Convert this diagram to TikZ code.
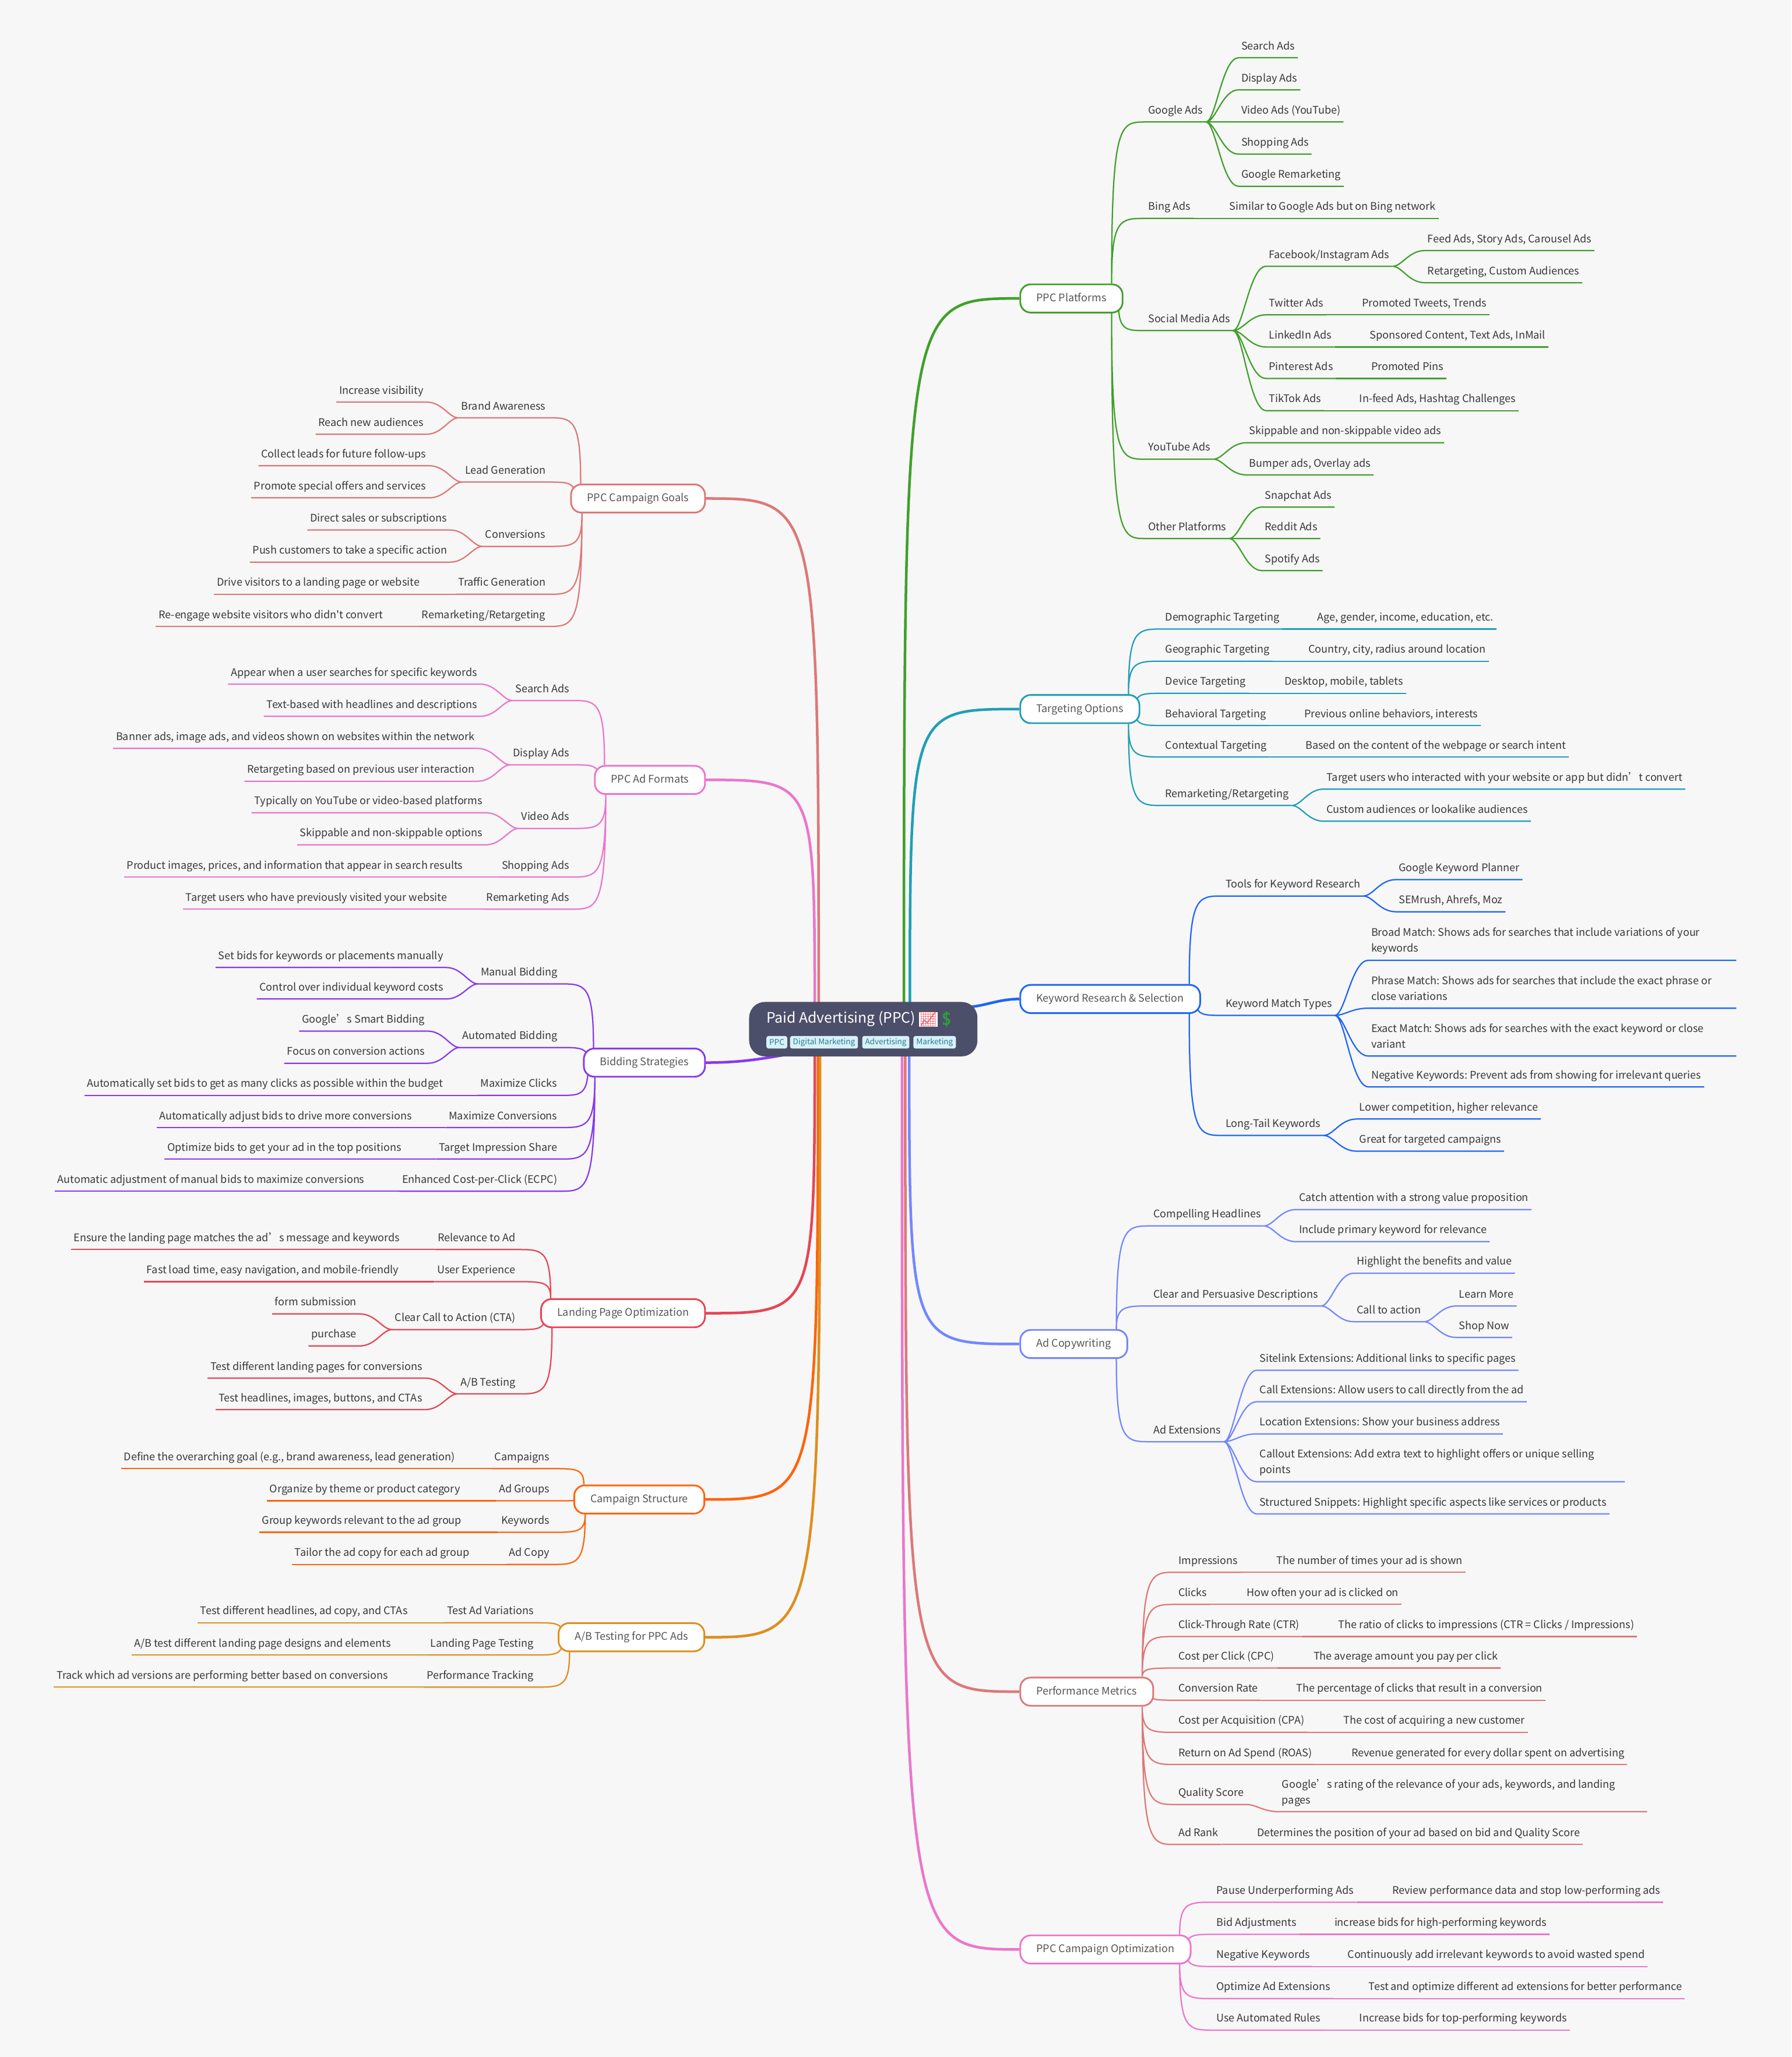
\documentclass[tikz,border=0pt]{standalone}
\usepackage{fontspec}
\usetikzlibrary{backgrounds,calc}
\newfontfamily\mapfont{Noto Sans CJK SC}
\newfontfamily\emojifont{Noto Emoji}
\definecolor{pagebg}{HTML}{F7F7F7}
\definecolor{rootcol}{HTML}{4C4F69}
\definecolor{leafcol}{HTML}{383838}
\definecolor{boxcol}{HTML}{555555}
\definecolor{tagfill}{HTML}{D7F1F8}
\definecolor{tagtext}{HTML}{2C7C94}
\definecolor{cplat}{HTML}{40A02B}
\definecolor{ctarget}{HTML}{209FB5}
\definecolor{ckey}{HTML}{1E66F5}
\definecolor{ccopy}{HTML}{7287FD}
\definecolor{cperf}{HTML}{DD7878}
\definecolor{cpink}{HTML}{EA76CB}
\definecolor{cbid}{HTML}{8839EF}
\definecolor{cland}{HTML}{E64553}
\definecolor{cstruct}{HTML}{FE640B}
\definecolor{cab}{HTML}{DF8E1D}
\tikzset{
  leaf/.style={inner xsep=2pt,inner ysep=3.5pt,text=leafcol,font=\mapfont\fontsize{8}{12}\selectfont\frenchspacing,align=left,
    execute at end node={\rule[-2.5pt]{0pt}{9.5pt}}},
  rleaf/.style={leaf,anchor=south west,xshift=.5pt},
  lleaf/.style={leaf,anchor=south east,xshift=-.5pt},
  wrapped/.style={text width=276pt,align=flush left},
  branch/.style={draw=#1,line width=1.3pt,fill=white,rounded corners=8pt,minimum height=21.5pt,inner xsep=12.3pt,inner ysep=0pt,
    text=boxcol,text height=6.3pt,text depth=1.7pt,font=\mapfont\fontsize{8}{12}\selectfont},
  tag/.style={fill=tagfill,text=tagtext,rounded corners=1.5pt,inner xsep=2.2pt,inner ysep=0pt,minimum height=9.5pt,anchor=west,
    font=\mapfont\fontsize{6}{9}\selectfont},
  trunk/.style={line width=2pt},
  twigline/.style={line width=1pt,line join=round},
  rtwig/.style={twigline,to path={let \p1=(\tikztostart.south east),\p2=(\tikztotarget.south west) in
    (\p1) .. controls ({\x1+.3*(\x2-\x1)},\y1) and ({\x1+.5*(\x2-\x1)},\y2) .. (\p2) -- (\tikztotarget.south east)}},
  ltwig/.style={twigline,to path={let \p1=(\tikztostart.south west),\p2=(\tikztotarget.south east) in
    (\p1) .. controls ({\x1+.3*(\x2-\x1)},\y1) and ({\x1+.5*(\x2-\x1)},\y2) .. (\p2) -- (\tikztotarget.south west)}},
  rup/.style={twigline,to path={let \p1=([xshift=-9pt]\tikztostart.north east),\p2=(\tikztotarget.south west) in
    (\p1) .. controls (\x1,\y2) and ({\x1+.25*(\x2-\x1)},\y2) .. (\p2) -- (\tikztotarget.south east)}},
  rdown/.style={twigline,to path={let \p1=([xshift=-9pt]\tikztostart.south east),\p2=(\tikztotarget.south west) in
    (\p1) .. controls (\x1,\y2) and ({\x1+.25*(\x2-\x1)},\y2) .. (\p2) -- (\tikztotarget.south east)}},
  rnear/.style={twigline,to path={let \p1=([xshift=-4pt]\tikztostart.east),\p2=(\tikztotarget.south west) in
    (\p1) .. controls (\x1,\y2) and ({\x1+.25*(\x2-\x1)},\y2) .. (\p2) -- (\tikztotarget.south east)}},
  lup/.style={twigline,to path={let \p1=([xshift=8pt]\tikztostart.north west),\p2=(\tikztotarget.south east) in
    (\p1) .. controls (\x1,\y2) and ({\x1+.25*(\x2-\x1)},\y2) .. (\p2) -- (\tikztotarget.south west)}},
  ldown/.style={twigline,to path={let \p1=([xshift=9pt]\tikztostart.south west),\p2=(\tikztotarget.south east) in
    (\p1) .. controls (\x1,\y2) and ({\x1+.25*(\x2-\x1)},\y2) .. (\p2) -- (\tikztotarget.south west)}},
  lnear/.style={twigline,to path={let \p1=([xshift=4pt]\tikztostart.west),\p2=(\tikztotarget.south east) in
    (\p1) .. controls (\x1,\y2) and ({\x1+.25*(\x2-\x1)},\y2) .. (\p2) -- (\tikztotarget.south west)}},
}
\begin{document}
\begin{tikzpicture}[x=1pt,y=-1pt]
\useasboundingbox (0,0) rectangle (1365.45,1568);

%% le noeud central
\node[fill=rootcol,rounded corners=12pt,minimum width=174pt,minimum height=41.5pt,inner sep=0pt] (root) at (658,784.5) {};
\node[anchor=west,inner sep=0pt,text=white,font=\mapfont\fontsize{11}{14}\selectfont] (roottitle) at (584,776.5) {Paid Advertising (PPC)};
\node[inner sep=0pt,fill=white,text=cland,font=\emojifont\fontsize{11}{13}\selectfont] (rootchart) at (707.5,777) {📈};
\node[inner sep=0pt,text=cplat!80!teal,font=\emojifont\fontsize{12}{13}\selectfont] (rootdollar) at (721.5,777) {💲};
\node[tag] (tagppc) at (584,794.5) {PPC};
\node[tag] (tagdigital) at (602,794.5) {Digital Marketing};
\node[tag] (tagadv) at (657,794.5) {Advertising};
\node[tag] (tagmark) at (696,794.5) {Marketing};

%% les points de depart sur le noeud central
\coordinate (outplat) at (689,775);
\coordinate (outtarget) at (693.5,775);
\coordinate (outkey) at (725,767);
\coordinate (outcopy) at (693,795);
\coordinate (outperf) at (690,795);
\coordinate (outopt) at (687.5,795);
\coordinate (outgoals) at (624,775);
\coordinate (outformats) at (621,775);
\coordinate (outbid) at (610,802);
\coordinate (outland) at (621,795);
\coordinate (outstruct) at (623.5,795);
\coordinate (outab) at (625,795);

%% PPC Platforms
\node[branch=cplat,anchor=west] (platforms) at (777,227.5) {PPC Platforms};
\node[rleaf] (googleads) at (872.5,93) {Google Ads};
\node[rleaf] (gsearch) at (943.5,44) {Search Ads};
\node[rleaf] (gdisplay) at (943.5,68.5) {Display Ads};
\node[rleaf] (gvideo) at (943.5,93) {Video Ads (YouTube)};
\node[rleaf] (gshopping) at (943.5,117.5) {Shopping Ads};
\node[rleaf] (gremarket) at (943.5,142) {Google Remarketing};
\node[rleaf] (bingads) at (872.5,166.5) {Bing Ads};
\node[rleaf] (bingnote) at (934.5,166.5) {Similar to Google Ads but on Bing network};
\node[rleaf] (socialads) at (872.5,252) {Social Media Ads};
\node[rleaf] (facebook) at (964.5,203) {Facebook/Instagram Ads};
\node[rleaf] (fbfeed) at (1085.5,191) {Feed Ads, Story Ads, Carousel Ads};
\node[rleaf] (fbretarget) at (1085.5,215.5) {Retargeting, Custom Audiences};
\node[rleaf] (twitter) at (964.5,240) {Twitter Ads};
\node[rleaf] (twnote) at (1035.5,240) {Promoted Tweets, Trends};
\node[rleaf] (linkedin) at (964.5,264.5) {LinkedIn Ads};
\node[rleaf] (linote) at (1041.5,264.5) {Sponsored Content, Text Ads, InMail};
\node[rleaf] (pinterest) at (964.5,288.5) {Pinterest Ads};
\node[rleaf] (pinote) at (1042.5,288.5) {Promoted Pins};
\node[rleaf] (tiktok) at (964.5,313) {TikTok Ads};
\node[rleaf] (ttnote) at (1033.5,313) {In-feed Ads, Hashtag Challenges};
\node[rleaf] (youtube) at (872.5,350) {YouTube Ads};
\node[rleaf] (ytskip) at (949.5,337.5) {Skippable and non-skippable video ads};
\node[rleaf] (ytbump) at (949.5,362) {Bumper ads, Overlay ads};
\node[rleaf] (otherplat) at (872.5,410.5) {Other Platforms};
\node[rleaf] (snapchat) at (961.5,386.5) {Snapchat Ads};
\node[rleaf] (reddit) at (961.5,410.5) {Reddit Ads};
\node[rleaf] (spotify) at (961.5,435) {Spotify Ads};

%% Targeting Options
\node[branch=ctarget,anchor=west] (targeting) at (777,540.5) {Targeting Options};
\node[rleaf] (demotarget) at (885.5,479.5) {Demographic Targeting};
\node[rleaf] (demonote) at (1001.5,479.5) {Age, gender, income, education, etc.};
\node[rleaf] (geotarget) at (885.5,504) {Geographic Targeting};
\node[rleaf] (geonote) at (994.5,504) {Country, city, radius around location};
\node[rleaf] (devtarget) at (885.5,528.5) {Device Targeting};
\node[rleaf] (devnote) at (976.5,528.5) {Desktop, mobile, tablets};
\node[rleaf] (behavtarget) at (885.5,553) {Behavioral Targeting};
\node[rleaf] (behavnote) at (991.5,553) {Previous online behaviors, interests};
\node[rleaf] (contarget) at (885.5,577) {Contextual Targeting};
\node[rleaf] (connote) at (992.5,577) {Based on the content of the webpage or search intent};
\node[rleaf] (retarget) at (885.5,614) {Remarketing/Retargeting};
\node[rleaf] (retargetusers) at (1008.5,601.5) {Target users who interacted with your website or app but didn’t convert};
\node[rleaf] (retargetaud) at (1008.5,626) {Custom audiences or lookalike audiences};

%% Keyword Research & Selection
\node[branch=ckey,anchor=west] (keyword) at (777,761.5) {Keyword Research \& Selection};
\node[rleaf] (kwtools) at (931.5,683) {Tools for Keyword Research};
\node[rleaf] (kwplanner) at (1063.5,670.5) {Google Keyword Planner};
\node[rleaf] (kwsemrush) at (1063.5,695) {SEMrush, Ahrefs, Moz};
\node[rleaf] (kwmatch) at (931.5,774) {Keyword Match Types};
\node[rleaf,wrapped] (kwbroad) at (1042.5,732) {Broad Match: Shows ads for searches that include variations of your\\keywords};
\node[rleaf,wrapped] (kwphrase) at (1042.5,768.5) {Phrase Match: Shows ads for searches that include the exact phrase or\\close variations};
\node[rleaf,wrapped] (kwexact) at (1042.5,805) {Exact Match: Shows ads for searches with the exact keyword or close\\variant};
\node[rleaf] (kwnegative) at (1042.5,828.5) {Negative Keywords: Prevent ads from showing for irrelevant queries};
\node[rleaf] (kwlong) at (931.5,865.5) {Long-Tail Keywords};
\node[rleaf] (kwlower) at (1033.5,853) {Lower competition, higher relevance};
\node[rleaf] (kwgreat) at (1033.5,877.5) {Great for targeted campaigns};

%% Ad Copywriting
\node[branch=ccopy,anchor=west] (adcopy) at (777,1024.5) {Ad Copywriting};
\node[rleaf] (headlines) at (876.5,934.5) {Compelling Headlines};
\node[rleaf] (hlcatch) at (987.5,922) {Catch attention with a strong value proposition};
\node[rleaf] (hlprimary) at (987.5,946.5) {Include primary keyword for relevance};
\node[rleaf] (descriptions) at (876.5,995.5) {Clear and Persuasive Descriptions};
\node[rleaf] (deschigh) at (1031.5,970.5) {Highlight the benefits and value};
\node[rleaf] (desccall) at (1031.5,1007.5) {Call to action};
\node[rleaf] (learnmore) at (1109.5,995.5) {Learn More};
\node[rleaf] (shopnow) at (1109.5,1019.5) {Shop Now};
\node[rleaf] (extensions) at (876.5,1099) {Ad Extensions};
\node[rleaf] (extsite) at (957.5,1044.5) {Sitelink Extensions: Additional links to specific pages};
\node[rleaf] (extcall) at (957.5,1068.5) {Call Extensions: Allow users to call directly from the ad};
\node[rleaf] (extloc) at (957.5,1093) {Location Extensions: Show your business address};
\node[rleaf,wrapped] (extcallout) at (957.5,1129.5) {Callout Extensions: Add extra text to highlight offers or unique selling\\points};
\node[rleaf] (extsnip) at (957.5,1154) {Structured Snippets: Highlight specific aspects like services or products};

%% Performance Metrics
\node[branch=cperf,anchor=west] (performance) at (777,1289.5) {Performance Metrics};
\node[rleaf] (impressions) at (895.5,1198.5) {Impressions};
\node[rleaf] (impnote) at (970.5,1198.5) {The number of times your ad is shown};
\node[rleaf] (clicks) at (895.5,1223) {Clicks};
\node[rleaf] (clicknote) at (947.5,1223) {How often your ad is clicked on};
\node[rleaf] (ctr) at (895.5,1247.5) {Click-Through Rate (CTR)};
\node[rleaf] (ctrnote) at (1017.5,1247.5) {The ratio of clicks to impressions (CTR = Clicks / Impressions)};
\node[rleaf] (cpc) at (895.5,1271.5) {Cost per Click (CPC)};
\node[rleaf] (cpcnote) at (998.5,1271.5) {The average amount you pay per click};
\node[rleaf] (convrate) at (895.5,1296) {Conversion Rate};
\node[rleaf] (convnote) at (985.5,1296) {The percentage of clicks that result in a conversion};
\node[rleaf] (cpa) at (895.5,1320.5) {Cost per Acquisition (CPA)};
\node[rleaf] (cpanote) at (1021.5,1320.5) {The cost of acquiring a new customer};
\node[rleaf] (roas) at (895.5,1345) {Return on Ad Spend (ROAS)};
\node[rleaf] (roasnote) at (1027.5,1345) {Revenue generated for every dollar spent on advertising};
\node[rleaf] (quality) at (895.5,1375.5) {Quality Score};
\node[rleaf,wrapped] (qualnote) at (974.5,1381) {Google’s rating of the relevance of your ads, keywords, and landing\\pages};
\node[rleaf] (adrank) at (895.5,1406) {Ad Rank};
\node[rleaf] (ranknote) at (955.5,1406) {Determines the position of your ad based on bid and Quality Score};

%% PPC Campaign Optimization
\node[branch=cpink,anchor=west] (optimization) at (777,1486) {PPC Campaign Optimization};
\node[rleaf] (pause) at (924.5,1450) {Pause Underperforming Ads};
\node[rleaf] (pausenote) at (1058.5,1450) {Review performance data and stop low-performing ads};
\node[rleaf] (bidadj) at (924.5,1474.5) {Bid Adjustments};
\node[rleaf] (bidadjnote) at (1014.5,1474.5) {increase bids for high-performing keywords};
\node[rleaf] (negative) at (924.5,1499) {Negative Keywords};
\node[rleaf] (negnote) at (1024.5,1499) {Continuously add irrelevant keywords to avoid wasted spend};
\node[rleaf] (optext) at (924.5,1523.5) {Optimize Ad Extensions};
\node[rleaf] (optextnote) at (1040.5,1523.5) {Test and optimize different ad extensions for better performance};
\node[rleaf] (autorules) at (924.5,1547.5) {Use Automated Rules};
\node[rleaf] (autonote) at (1033.5,1547.5) {Increase bids for top-performing keywords};

%% PPC Campaign Goals
\node[branch=cperf,anchor=east] (goals) at (538,380) {PPC Campaign Goals};
\node[lleaf] (brand) at (418.5,318.5) {Brand Awareness};
\node[lleaf] (brandvis) at (325.5,306.5) {Increase visibility};
\node[lleaf] (brandreach) at (325.5,331) {Reach new audiences};
\node[lleaf] (leadgen) at (418.5,367.5) {Lead Generation};
\node[lleaf] (leadcollect) at (327.5,355) {Collect leads for future follow-ups};
\node[lleaf] (leadpromote) at (327.5,379.5) {Promote special offers and services};
\node[lleaf] (conversions) at (418.5,416.5) {Conversions};
\node[lleaf] (convdirect) at (343.5,404) {Direct sales or subscriptions};
\node[lleaf] (convpush) at (343.5,428.5) {Push customers to take a specific action};
\node[lleaf] (traffic) at (418.5,453) {Traffic Generation};
\node[lleaf] (trafficnote) at (322.5,453) {Drive visitors to a landing page or website};
\node[lleaf] (goalremark) at (418.5,477.5) {Remarketing/Retargeting};
\node[lleaf] (goalremarknote) at (294.5,477.5) {Re-engage website visitors who didn't convert};

%% PPC Ad Formats
\node[branch=cpink,anchor=east] (formats) at (538,594.5) {PPC Ad Formats};
\node[lleaf] (fsearch) at (436.5,534) {Search Ads};
\node[lleaf] (fsearchwhen) at (366.5,521.5) {Appear when a user searches for specific keywords};
\node[lleaf] (fsearchtext) at (366.5,546) {Text-based with headlines and descriptions};
\node[lleaf] (fdisplay) at (436.5,583) {Display Ads};
\node[lleaf] (fdisplaybanner) at (364.5,570.5) {Banner ads, image ads, and videos shown on websites within the network};
\node[lleaf] (fdisplayretarget) at (364.5,595.5) {Retargeting based on previous user interaction};
\node[lleaf] (fvideo) at (436.5,631.5) {Video Ads};
\node[lleaf] (fvideoyt) at (370.5,619.5) {Typically on YouTube or video-based platforms};
\node[lleaf] (fvideoskip) at (370.5,644) {Skippable and non-skippable options};
\node[lleaf] (fshopping) at (436.5,668.5) {Shopping Ads};
\node[lleaf] (fshopnote) at (355.5,668.5) {Product images, prices, and information that appear in search results};
\node[lleaf] (fremarket) at (436.5,693) {Remarketing Ads};
\node[lleaf] (fremarknote) at (343.5,693) {Target users who have previously visited your website};

%% Bidding Strategies
\node[branch=cbid,anchor=east] (bidding) at (538,810) {Bidding Strategies};
\node[lleaf] (manual) at (427.5,750) {Manual Bidding};
\node[lleaf] (manualset) at (340.5,737.5) {Set bids for keywords or placements manually};
\node[lleaf] (manualctrl) at (340.5,761.5) {Control over individual keyword costs};
\node[lleaf] (automated) at (427.5,798.5) {Automated Bidding};
\node[lleaf] (autosmart) at (326.5,786) {Google’s Smart Bidding};
\node[lleaf] (autofocus) at (326.5,810.5) {Focus on conversion actions};
\node[lleaf] (maxclicks) at (427.5,835) {Maximize Clicks};
\node[lleaf] (maxclicksnote) at (340.5,835) {Automatically set bids to get as many clicks as possible within the budget};
\node[lleaf] (maxconv) at (427.5,859.5) {Maximize Conversions};
\node[lleaf] (maxconvnote) at (316.5,859.5) {Automatically adjust bids to drive more conversions};
\node[lleaf] (impshare) at (427.5,883.5) {Target Impression Share};
\node[lleaf] (impsharenote) at (308.5,883.5) {Optimize bids to get your ad in the top positions};
\node[lleaf] (ecpc) at (427.5,908) {Enhanced Cost-per-Click (ECPC)};
\node[lleaf] (ecpcnote) at (280.5,908) {Automatic adjustment of manual bids to maximize conversions};

%% Landing Page Optimization
\node[branch=cland,anchor=east] (landing) at (538,1001) {Landing Page Optimization};
\node[lleaf] (relevance) at (395.5,952.5) {Relevance to Ad};
\node[lleaf] (relevnote) at (307.5,952.5) {Ensure the landing page matches the ad’s message and keywords};
\node[lleaf] (userexp) at (395.5,977) {User Experience};
\node[lleaf] (userexpnote) at (306.5,977) {Fast load time, easy navigation, and mobile-friendly};
\node[lleaf] (clearcta) at (395.5,1013.5) {Clear Call to Action (CTA)};
\node[lleaf] (ctaform) at (274.5,1001.5) {form submission};
\node[lleaf] (ctapurchase) at (274.5,1026) {purchase};
\node[lleaf] (abtesting) at (395.5,1062.5) {A/B Testing};
\node[lleaf] (abpages) at (324.5,1050.5) {Test different landing pages for conversions};
\node[lleaf] (abheads) at (324.5,1074.5) {Test headlines, images, buttons, and CTAs};

%% Campaign Structure
\node[branch=cstruct,anchor=east] (structure) at (537.5,1143) {Campaign Structure};
\node[lleaf] (campaigns) at (421.5,1119.5) {Campaigns};
\node[lleaf] (campnote) at (349.5,1119.5) {Define the overarching goal (e.g., brand awareness, lead generation)};
\node[lleaf] (adgroups) at (421.5,1144) {Ad Groups};
\node[lleaf] (adgroupnote) at (353.5,1144) {Organize by theme or product category};
\node[lleaf] (keywords) at (421.5,1168) {Keywords};
\node[lleaf] (keywordsnote) at (354.5,1168) {Group keywords relevant to the ad group};
\node[lleaf] (sadcopy) at (421.5,1192.5) {Ad Copy};
\node[lleaf] (sadcopynote) at (360.5,1192.5) {Tailor the ad copy for each ad group};

%% A/B Testing for PPC Ads
\node[branch=cab,anchor=east] (abppc) at (537.5,1248) {A/B Testing for PPC Ads};
\node[lleaf] (abvariations) at (409.5,1237) {Test Ad Variations};
\node[lleaf] (abvarnote) at (313.5,1237) {Test different headlines, ad copy, and CTAs};
\node[lleaf] (ablanding) at (409.5,1261.5) {Landing Page Testing};
\node[lleaf] (ablandnote) at (300.5,1261.5) {A/B test different landing page designs and elements};
\node[lleaf] (abtracking) at (409.5,1286) {Performance Tracking};
\node[lleaf] (abtracknote) at (298.5,1286) {Track which ad versions are performing better based on conversions};

\begin{scope}[on background layer]
\fill[pagebg] (0,0) rectangle (1365.45,1568);

%% les grosses branches
\draw[cplat,trunk] (outplat) .. controls (outplat |- platforms.west) .. (platforms.west);
\draw[ctarget,trunk] (outtarget) .. controls (outtarget |- targeting.west) .. (targeting.west);
\draw[ckey,trunk] (outkey) to[out=-10,in=180] (keyword.west);
\draw[ccopy,trunk] (outcopy) .. controls (outcopy |- adcopy.west) .. (adcopy.west);
\draw[cperf,trunk] (outperf) .. controls (outperf |- performance.west) .. (performance.west);
\draw[cpink,trunk] (outopt) .. controls (outopt |- optimization.west) .. (optimization.west);
\draw[cperf,trunk] (outgoals) .. controls (outgoals |- goals.east) .. (goals.east);
\draw[cpink,trunk] (outformats) .. controls (outformats |- formats.east) .. (formats.east);
\draw[cbid,trunk] (outbid) to[out=190,in=0] (bidding.east);
\draw[cland,trunk] (outland) .. controls (outland |- landing.east) .. (landing.east);
\draw[cstruct,trunk] (outstruct) .. controls (outstruct |- structure.east) .. (structure.east);
\draw[cab,trunk] (outab) .. controls (outab |- abppc.east) .. (abppc.east);

%% PPC Platforms
\draw[cplat,rup] (platforms) to (googleads) (platforms) to (bingads);
\draw[cplat,rnear] (platforms) to (socialads);
\draw[cplat,rdown] (platforms) to (youtube) (platforms) to (otherplat);
\draw[cplat,rtwig] (googleads) to (gsearch) (googleads) to (gdisplay) (googleads) to (gvideo) (googleads) to (gshopping) (googleads) to (gremarket);
\draw[cplat,rtwig] (bingads) to (bingnote);
\draw[cplat,rtwig] (socialads) to (facebook) (socialads) to (twitter) (socialads) to (linkedin) (socialads) to (pinterest) (socialads) to (tiktok);
\draw[cplat,rtwig] (facebook) to (fbfeed) (facebook) to (fbretarget);
\draw[cplat,rtwig] (twitter) to (twnote);
\draw[cplat,rtwig] (linkedin) to (linote);
\draw[cplat,rtwig] (pinterest) to (pinote);
\draw[cplat,rtwig] (tiktok) to (ttnote);
\draw[cplat,rtwig] (youtube) to (ytskip) (youtube) to (ytbump);
\draw[cplat,rtwig] (otherplat) to (snapchat) (otherplat) to (reddit) (otherplat) to (spotify);

%% Targeting Options
\draw[ctarget,rup] (targeting) to (demotarget) (targeting) to (geotarget);
\draw[ctarget,rnear] (targeting) to (devtarget) (targeting) to (behavtarget);
\draw[ctarget,rdown] (targeting) to (contarget) (targeting) to (retarget);
\draw[ctarget,rtwig] (demotarget) to (demonote);
\draw[ctarget,rtwig] (geotarget) to (geonote);
\draw[ctarget,rtwig] (devtarget) to (devnote);
\draw[ctarget,rtwig] (behavtarget) to (behavnote);
\draw[ctarget,rtwig] (contarget) to (connote);
\draw[ctarget,rtwig] (retarget) to (retargetusers) (retarget) to (retargetaud);

%% Keyword Research & Selection
\draw[ckey,rup] (keyword) to (kwtools);
\draw[ckey,rnear] (keyword) to (kwmatch);
\draw[ckey,rdown] (keyword) to (kwlong);
\draw[ckey,rtwig] (kwtools) to (kwplanner) (kwtools) to (kwsemrush);
\draw[ckey,rtwig] (kwmatch) to (kwbroad) (kwmatch) to (kwphrase) (kwmatch) to (kwexact) (kwmatch) to (kwnegative);
\draw[ckey,rtwig] (kwlong) to (kwlower) (kwlong) to (kwgreat);

%% Ad Copywriting
\draw[ccopy,rup] (adcopy) to (headlines) (adcopy) to (descriptions);
\draw[ccopy,rdown] (adcopy) to (extensions);
\draw[ccopy,rtwig] (headlines) to (hlcatch) (headlines) to (hlprimary);
\draw[ccopy,rtwig] (descriptions) to (deschigh) (descriptions) to (desccall);
\draw[ccopy,rtwig] (desccall) to (learnmore) (desccall) to (shopnow);
\draw[ccopy,rtwig] (extensions) to (extsite) (extensions) to (extcall) (extensions) to (extloc) (extensions) to (extcallout) (extensions) to (extsnip);

%% Performance Metrics
\draw[cperf,rup] (performance) to (impressions) (performance) to (clicks) (performance) to (ctr) (performance) to (cpc);
\draw[cperf,rnear] (performance) to (convrate);
\draw[cperf,rdown] (performance) to (cpa) (performance) to (roas) (performance) to (quality) (performance) to (adrank);
\draw[cperf,rtwig] (impressions) to (impnote);
\draw[cperf,rtwig] (clicks) to (clicknote);
\draw[cperf,rtwig] (ctr) to (ctrnote);
\draw[cperf,rtwig] (cpc) to (cpcnote);
\draw[cperf,rtwig] (convrate) to (convnote);
\draw[cperf,rtwig] (cpa) to (cpanote);
\draw[cperf,rtwig] (roas) to (roasnote);
\draw[cperf,rtwig] (quality) to (qualnote);
\draw[cperf,rtwig] (adrank) to (ranknote);

%% PPC Campaign Optimization
\draw[cpink,rup] (optimization) to (pause);
\draw[cpink,rnear] (optimization) to (bidadj) (optimization) to (negative);
\draw[cpink,rdown] (optimization) to (optext) (optimization) to (autorules);
\draw[cpink,rtwig] (pause) to (pausenote);
\draw[cpink,rtwig] (bidadj) to (bidadjnote);
\draw[cpink,rtwig] (negative) to (negnote);
\draw[cpink,rtwig] (optext) to (optextnote);
\draw[cpink,rtwig] (autorules) to (autonote);

%% PPC Campaign Goals
\draw[cperf,lup] (goals) to (brand);
\draw[cperf,lnear] (goals) to (leadgen);
\draw[cperf,ldown] (goals) to (conversions) (goals) to (traffic) (goals) to (goalremark);
\draw[cperf,ltwig] (brand) to (brandvis) (brand) to (brandreach);
\draw[cperf,ltwig] (leadgen) to (leadcollect) (leadgen) to (leadpromote);
\draw[cperf,ltwig] (conversions) to (convdirect) (conversions) to (convpush);
\draw[cperf,ltwig] (traffic) to (trafficnote);
\draw[cperf,ltwig] (goalremark) to (goalremarknote);

%% PPC Ad Formats
\draw[cpink,lup] (formats) to (fsearch);
\draw[cpink,lnear] (formats) to (fdisplay);
\draw[cpink,ldown] (formats) to (fvideo) (formats) to (fshopping) (formats) to (fremarket);
\draw[cpink,ltwig] (fsearch) to (fsearchwhen) (fsearch) to (fsearchtext);
\draw[cpink,ltwig] (fdisplay) to (fdisplaybanner) (fdisplay) to (fdisplayretarget);
\draw[cpink,ltwig] (fvideo) to (fvideoyt) (fvideo) to (fvideoskip);
\draw[cpink,ltwig] (fshopping) to (fshopnote);
\draw[cpink,ltwig] (fremarket) to (fremarknote);

%% Bidding Strategies
\draw[cbid,lup] (bidding) to (manual);
\draw[cbid,lnear] (bidding) to (automated) (bidding) to (maxclicks);
\draw[cbid,ldown] (bidding) to (maxconv) (bidding) to (impshare) (bidding) to (ecpc);
\draw[cbid,ltwig] (manual) to (manualset) (manual) to (manualctrl);
\draw[cbid,ltwig] (automated) to (autosmart) (automated) to (autofocus);
\draw[cbid,ltwig] (maxclicks) to (maxclicksnote);
\draw[cbid,ltwig] (maxconv) to (maxconvnote);
\draw[cbid,ltwig] (impshare) to (impsharenote);
\draw[cbid,ltwig] (ecpc) to (ecpcnote);

%% Landing Page Optimization
\draw[cland,lup] (landing) to (relevance) (landing) to (userexp);
\draw[cland,lnear] (landing) to (clearcta);
\draw[cland,ldown] (landing) to (abtesting);
\draw[cland,ltwig] (relevance) to (relevnote);
\draw[cland,ltwig] (userexp) to (userexpnote);
\draw[cland,ltwig] (clearcta) to (ctaform) (clearcta) to (ctapurchase);
\draw[cland,ltwig] (abtesting) to (abpages) (abtesting) to (abheads);

%% Campaign Structure
\draw[cstruct,lup] (structure) to (campaigns);
\draw[cstruct,lnear] (structure) to (adgroups);
\draw[cstruct,ldown] (structure) to (keywords) (structure) to (sadcopy);
\draw[cstruct,ltwig] (campaigns) to (campnote);
\draw[cstruct,ltwig] (adgroups) to (adgroupnote);
\draw[cstruct,ltwig] (keywords) to (keywordsnote);
\draw[cstruct,ltwig] (sadcopy) to (sadcopynote);

%% A/B Testing for PPC Ads
\draw[cab,lnear] (abppc) to (abvariations) (abppc) to (ablanding);
\draw[cab,ldown] (abppc) to (abtracking);
\draw[cab,ltwig] (abvariations) to (abvarnote);
\draw[cab,ltwig] (ablanding) to (ablandnote);
\draw[cab,ltwig] (abtracking) to (abtracknote);
\end{scope}

\end{tikzpicture}
\end{document}
